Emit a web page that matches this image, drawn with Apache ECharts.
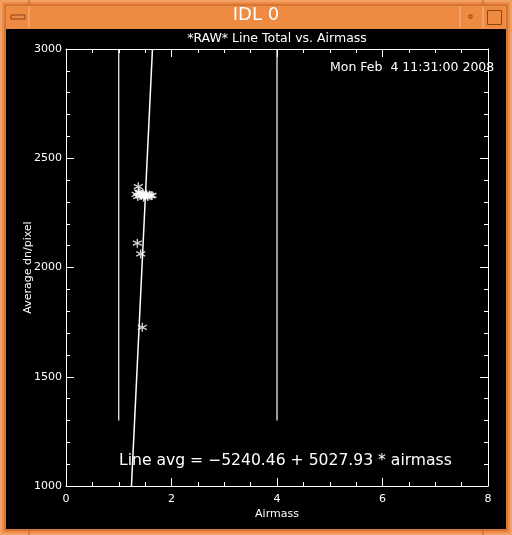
<!DOCTYPE html>
<html>
<head>
<meta charset="utf-8">
<script src="https://cdn.jsdelivr.net/npm/echarts@6/dist/echarts.min.js"></script>
<style>
  html, body { margin: 0; padding: 0; background: #ee8a42; }
  #grafica { width: 512px; height: 535px; }
</style>
</head>
<body>
<div id="grafica"></div>
<script>
// airmass vs average dn/pixel
const airmass = [1.37, 1.33, 1.36, 1.40, 1.43, 1.46, 1.49, 1.52, 1.55, 1.58, 1.61, 1.63, 1.38, 1.47, 1.352, 1.416, 1.447];
const avgDn   = [2370, 2335, 2325, 2340, 2330, 2338, 2328, 2335, 2325, 2332, 2328, 2330, 2345, 2322, 2111, 2062, 1726];

// fit line end points (bottom / top of the box)
const fitLine = [[1.241, 1000], [1.639, 3000]];
// the two vertical marker lines
const markerA = [[1, 1300], [1, 3000]];
const markerB = [[4, 1300], [4, 3000]];

const xTicks = [0, 2, 4, 6, 8];
const yTicks = [1000, 1500, 2000, 2500, 3000];

const chartTitle = "*RAW* Line Total vs. Airmass";
const fitText = "Line avg = \u22125240.46 + 5027.93 * airmass";
const dateText = "Mon Feb  4 11:31:00 2008";

const font = "DejaVu Sans";
const star = "path://M0,-4L0,4M-3.6,-2L3.6,2M-3.6,2L3.6,-2";

let myChart = echarts.init(document.getElementById("grafica"), null, { renderer: "canvas" });

const axisBase = (pos) => ({
  axisLine: { show: true, onZero: false, lineStyle: { color: "#fff", width: 1 } },
  axisTick: { show: true, inside: true, length: 8, lineStyle: { color: "#fff" } },
  splitLine: { show: false },
  position: pos
});

myChart.setOption({
  backgroundColor: "#ee8a42",
  animation: false,
  graphic: [
    // window frame
    { type: "rect", shape: { x: 0, y: 0, width: 512, height: 535 }, style: { fill: "#ee8a42" }, z: -10 },
    { type: "rect", shape: { x: 1, y: 1, width: 510, height: 533 }, style: { fill: "none", stroke: "#f7b98a", lineWidth: 1 }, z: -9 },
    { type: "rect", shape: { x: 5, y: 5, width: 502, height: 525 }, style: { fill: "none", stroke: "#b8612a", lineWidth: 1 }, z: -9 },
    { type: "rect", shape: { x: 6, y: 29, width: 500, height: 500 }, style: { fill: "#000" }, z: -8 },
    { type: "line", shape: { x1: 29, y1: 6, x2: 29, y2: 28 }, style: { stroke: "#f7b98a" }, z: -7 },
    { type: "line", shape: { x1: 460, y1: 6, x2: 460, y2: 28 }, style: { stroke: "#f7b98a" }, z: -7 },
    { type: "line", shape: { x1: 483, y1: 6, x2: 483, y2: 28 }, style: { stroke: "#f7b98a" }, z: -7 },
    { type: "line", shape: { x1: 29, y1: 0, x2: 29, y2: 5 }, style: { stroke: "#b8612a" }, z: -7 },
    { type: "line", shape: { x1: 483, y1: 0, x2: 483, y2: 5 }, style: { stroke: "#b8612a" }, z: -7 },
    { type: "line", shape: { x1: 29, y1: 530, x2: 29, y2: 535 }, style: { stroke: "#b8612a" }, z: -7 },
    { type: "line", shape: { x1: 483, y1: 530, x2: 483, y2: 535 }, style: { stroke: "#b8612a" }, z: -7 },
    { type: "rect", shape: { x: 11, y: 15, width: 14, height: 4 }, style: { fill: "#ee8a42", stroke: "#8a4518", lineWidth: 1 }, z: -6 },
    { type: "rect", shape: { x: 469, y: 15, width: 3, height: 3 }, style: { fill: "#ee8a42", stroke: "#8a4518", lineWidth: 1 }, z: -6 },
    { type: "rect", shape: { x: 487.5, y: 10.5, width: 14, height: 14 }, style: { fill: "#ee8a42", stroke: "#8a4518", lineWidth: 1 }, z: -6 },
    { type: "text", left: "center", top: 6, style: { text: "IDL 0", fill: "#fff", font: "18px " + font } },
    // plot texts
    { type: "text", x: 277, y: 32, style: { text: chartTitle, fill: "#fff", font: "12.5px " + font, textAlign: "center" } },
    { type: "text", x: 330, y: 61, style: { text: dateText, fill: "#fff", font: "12.5px " + font, whiteSpace: "pre" }, z: 5 },
    { type: "text", x: 119, y: 453, style: { text: fitText, fill: "#fff", font: "15.6px " + font }, z: 5 }
  ],
  grid: { left: 66, right: 24, top: 49, bottom: 49, containLabel: false },
  xAxis: [
    Object.assign(axisBase("bottom"), {
      type: "value", min: 0, max: 8, interval: 2, minorTick: { show: true, splitNumber: 4, length: 4, lineStyle: { color: "#fff" } },
      name: "Airmass", nameLocation: "middle", nameGap: 23, nameMoveOverlap: false,
      nameTextStyle: { color: "#fff", fontFamily: font, fontSize: 11 },
      axisLabel: { color: "#fff", fontFamily: font, fontSize: 11, margin: 8, formatter: (v) => xTicks.includes(v) ? String(v) : "" }
    }),
    Object.assign(axisBase("top"), {
      type: "value", min: 0, max: 8, interval: 2, minorTick: { show: true, splitNumber: 4, length: 4, lineStyle: { color: "#fff" } },
      axisLabel: { show: false }
    })
  ],
  yAxis: [
    Object.assign(axisBase("left"), {
      type: "value", min: 1000, max: 3000, interval: 500, minorTick: { show: true, splitNumber: 5, length: 4, lineStyle: { color: "#fff" } },
      name: "Average dn/pixel", nameLocation: "middle", nameGap: 32, nameMoveOverlap: false,
      nameTextStyle: { color: "#fff", fontFamily: font, fontSize: 11 },
      axisLabel: { color: "#fff", fontFamily: font, fontSize: 11, margin: 4, formatter: (v) => yTicks.includes(v) ? String(v) : "" }
    }),
    Object.assign(axisBase("right"), {
      type: "value", min: 1000, max: 3000, interval: 500, minorTick: { show: true, splitNumber: 5, length: 4, lineStyle: { color: "#fff" } },
      axisLabel: { show: false }
    })
  ],
  series: [
    { type: "line", data: markerA, symbol: "none", lineStyle: { color: "#fff", width: 1.2 }, clip: true },
    { type: "line", data: markerB, symbol: "none", lineStyle: { color: "#fff", width: 1.2 }, clip: true },
    { type: "line", data: fitLine, symbol: "none", lineStyle: { color: "#fff", width: 1.5 }, clip: true },
    {
      type: "scatter",
      data: airmass.map((x, i) => [x, avgDn[i]]),
      symbol: star, symbolSize: 9,
      itemStyle: { color: "none", borderColor: "#fff", borderWidth: 1.4 }
    }
  ]
});
</script>
</body>
</html>
